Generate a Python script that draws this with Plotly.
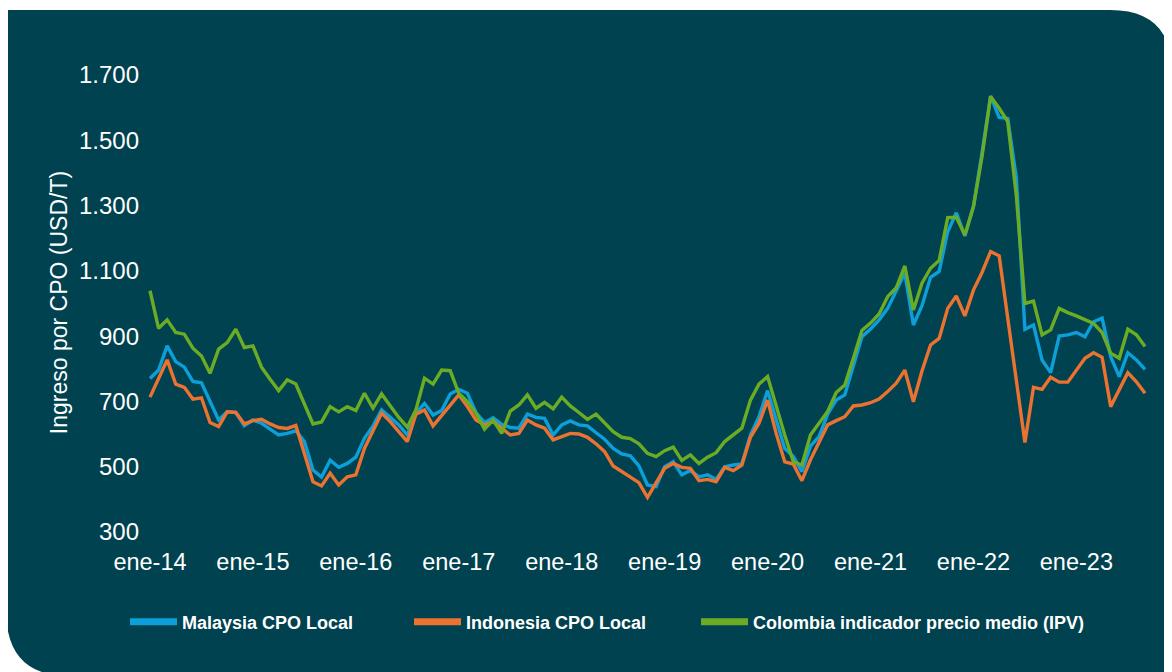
import plotly.graph_objects as go

# ---------------- data ----------------
meses = ["ene", "feb", "mar", "abr", "may", "jun", "jul", "ago", "sep", "oct", "nov", "dic"]
periodos = [f"{m}-{str(a)[2:]}" for a in range(2014, 2024) for m in meses][:117]  # ene-14 .. sep-23

malaysia = [770, 796, 870, 822, 805, 761, 757, 702, 643, 668, 666, 626, 643, 633, 615, 597, 602, 610, 577, 490, 468, 520,
            498, 510, 529, 587, 625, 674, 651, 628, 597, 664, 694, 658, 672, 723, 737, 725, 666, 635, 650, 630, 620,
            618, 661, 651, 648, 597, 628, 640, 628, 625, 604, 584, 556, 539, 533, 502, 444, 439, 500, 515, 475, 488,
            469, 475, 461, 500, 505, 508, 597, 653, 733, 643, 556, 531, 485, 563, 592, 661, 704, 720,
            806, 898, 922, 950, 985, 1041, 1093, 934, 993, 1080, 1098, 1220, 1278, 1207, 1297, 1462, 1636, 1570, 1567, 1384, 921, 934,
            827, 788, 900, 904, 911, 898, 944, 955, 837, 776, 849, 827, 798]

indonesia = [713, 771, 827, 753, 743, 707, 711, 635, 623, 668, 666, 631, 641, 645, 631, 620, 617, 626, 541, 454, 441, 480,
             444, 469, 475, 556, 610, 664, 638, 607, 577, 661, 674, 625, 658, 689, 720, 684, 643, 628, 638, 618, 597,
             602, 643, 628, 618, 582, 592, 602, 600, 590, 570, 546, 502, 485, 468, 451, 406, 449, 495, 510, 498, 495,
             457, 461, 454, 498, 488, 505, 590, 633, 704, 602, 515, 508, 457, 521, 572, 628, 641, 653,
             686, 689, 696, 707, 730, 756, 796, 699, 793, 873, 893, 985, 1023, 962, 1041, 1095, 1159, 1146, 955, 765, 574, 743,
             737, 774, 759, 759, 796, 832, 849, 835, 684, 735, 788, 760, 725]

colombia = [1039, 924, 950, 911, 906, 863, 839, 786, 860, 880, 921, 865, 870, 805, 768, 733, 766, 753, 692, 631, 637, 684,
            668, 684, 672, 725, 679, 723, 687, 651, 621, 674, 771, 753, 796, 794, 725, 699, 664, 615, 643, 602, 670,
            689, 720, 679, 697, 677, 713, 686, 666, 645, 661, 633, 607, 590, 586, 570, 541, 531, 549, 560, 519, 536,
            510, 529, 543, 577, 597, 618, 704, 753, 776, 684, 597, 515, 505, 597, 633, 669, 727, 750,
            832, 917, 940, 968, 1021, 1048, 1115, 980, 1062, 1108, 1132, 1263, 1264, 1210, 1297, 1450, 1634, 1598, 1557, 1330, 1000, 1007,
            904, 919, 985, 972, 962, 950, 939, 911, 848, 832, 921, 904, 868]

series_names = ["Malaysia CPO Local", "Indonesia CPO Local", "Colombia indicador precio medio (IPV)"]
y_ticks = [300, 500, 700, 900, 1100, 1300, 1500, 1700]
y_tick_text = ["300", "500", "700", "900", "1.100", "1.300", "1.500", "1.700"]
x_tick_vals = [p for p in periodos if p.startswith("ene")]

# ---------------- style ----------------
W, H = 1164, 664           # page adds an 8px body margin
L, R, T, B = 132, 17, 52, 127
PW, PH = W - L - R, H - T - B
BG = "#00424F"
colors = ["#0C9FD9", "#EC7231", "#6CAC24"]
FONT = "Liberation Sans, Arial, Helvetica, sans-serif"
ITEMW = 47


def px(x):
    return (x - L) / PW


def py(y):
    return (H - B - y) / PH


legend_ids = ["legend", "legend2", "legend3"]
legend_text_x = [174, 458, 745]   # figure px where legend text begins

fig = go.Figure()
for name, vals, c, lg in zip(series_names, [malaysia, indonesia, colombia], colors, legend_ids):
    fig.add_trace(go.Scatter(x=periodos, y=vals, name=name, mode="lines",
                             line=dict(color=c, width=3.4), showlegend=False, legendgroup=name))
    # legend entry only (thicker key line, as in the original legend)
    fig.add_trace(go.Scatter(x=[None], y=[None], name=name, mode="lines",
                             line=dict(color=c, width=7), legend=lg, legendgroup=name,
                             hoverinfo="skip"))

r = 62
path = (f"M{px(-2)},{py(2)} L{px(W - r)},{py(2)} Q{px(W)},{py(2)} {px(W)},{py(2 + r)} "
        f"L{px(W + 4)},{py(H + 4)} L{px(-1 + r)},{py(H + 4)} Q{px(-2)},{py(H + 4)} {px(-2)},{py(H - r)} Z")
fig.add_shape(type="path", path=path, xref="paper", yref="paper",
              fillcolor=BG, line=dict(width=0), layer="below")

legend_style = dict(orientation="h", xanchor="left", y=-0.1206, yanchor="top",
                    font=dict(family=FONT, size=18, color="white", weight="bold"),
                    bgcolor="rgba(0,0,0,0)", borderwidth=0, itemwidth=ITEMW)

fig.update_layout(
    width=W, height=H,
    margin=dict(l=L, r=R, t=T, b=B),
    paper_bgcolor="white", plot_bgcolor="rgba(0,0,0,0)",
    font=dict(family=FONT, color="white", size=23),
    showlegend=True,
    legend=dict(x=px(legend_text_x[0] - ITEMW - 10), **legend_style),
    legend2=dict(x=px(legend_text_x[1] - ITEMW - 10), **legend_style),
    legend3=dict(x=px(legend_text_x[2] - ITEMW - 10), **legend_style),
    xaxis=dict(type="category", range=[-1.166, 117.166],
               tickmode="array", tickvals=x_tick_vals, ticktext=x_tick_vals,
               showgrid=False, zeroline=False, showline=False, ticks="",
               tickfont=dict(size=23.5, color="white")),
    yaxis=dict(range=[260, 1746], tickmode="array", tickvals=y_ticks, ticktext=y_tick_text,
               showgrid=False, zeroline=False, showline=False, ticks="",
               tickfont=dict(size=24, color="white"),
               title=dict(text="Ingreso por CPO (USD/T)", font=dict(size=23, color="white"), standoff=4)),
)

fig.write_html("out.html")
